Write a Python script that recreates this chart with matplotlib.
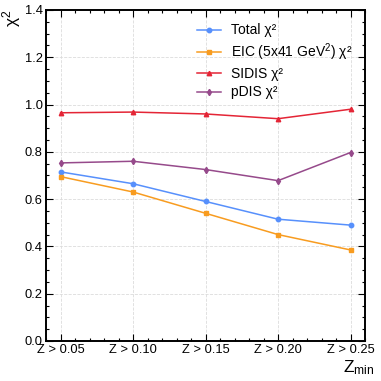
import matplotlib
matplotlib.use("Agg")
import matplotlib.pyplot as plt
from matplotlib.ticker import MultipleLocator, FixedLocator, FixedFormatter

zmin = [0.05, 0.10, 0.15, 0.20, 0.25]
xlabels = ["Z > 0.05", "Z > 0.10", "Z > 0.15", "Z > 0.20", "Z > 0.25"]
total = [0.715, 0.665, 0.590, 0.515, 0.490]
eic = [0.695, 0.630, 0.540, 0.450, 0.385]
sidis = [0.965, 0.968, 0.960, 0.940, 0.980]
pdis = [0.753, 0.760, 0.725, 0.678, 0.797]

series = [
    ("Total χ²", total, "#5790fc", "o"),
    ("EIC (5x41 GeV$^2$) χ²", eic, "#f89c20", "s"),
    ("SIDIS χ²", sidis, "#e42536", "^"),
    ("pDIS χ²", pdis, "#964a8b", "d"),
]

plt.rcParams['font.family'] = ['Liberation Sans', 'DejaVu Sans']
plt.rcParams['mathtext.fontset'] = 'custom'
plt.rcParams['mathtext.rm'] = 'Liberation Sans'
plt.rcParams['mathtext.it'] = 'Liberation Sans'

fig = plt.figure(figsize=(3.81, 3.81), dpi=100)
ax = fig.add_axes([0.121, 0.105, 0.837, 0.869])

for label, vals, color, marker in series:
    ax.plot(zmin, vals, marker=marker, color=color, label=label,
            lw=1.1, ms=3.2)

ax.set_xlim(0.04, 0.26)
ax.set_ylim(0, 1.4)
ax.xaxis.set_major_locator(FixedLocator(zmin))
ax.xaxis.set_major_formatter(FixedFormatter(xlabels))
ax.xaxis.set_minor_locator(MultipleLocator(0.01))
ax.yaxis.set_major_locator(MultipleLocator(0.2))
ax.yaxis.set_minor_locator(MultipleLocator(0.05))
ax.tick_params(which='both', direction='in', top=True, right=True, labelsize=9.3)
ax.tick_params(axis='x', which='major', pad=2)
ax.tick_params(axis='y', which='major', pad=2.5)
ax.tick_params(which='major', length=5, width=0.8)
ax.tick_params(which='minor', length=2.5, width=0.8)
for s in ax.spines.values():
    s.set_linewidth(1.4)
ax.grid(True, which='major', ls='--', color='#dcdcdc', lw=0.6)

ax.set_ylabel(r"χ$^2$", loc='top', fontsize=12.5)
ax.yaxis.set_label_coords(-0.072, 1.0)
ax.set_xlabel(r"Z$_{\mathrm{min}}$", loc='right', fontsize=12.5)
ax.xaxis.set_label_coords(1.031, -0.052)

ax.legend(loc='upper right', bbox_to_anchor=(1.0, 0.997), frameon=False,
          fontsize=10, handlelength=1.75, handletextpad=0.7, labelspacing=0.3)

fig.savefig("out.png", dpi=100)
